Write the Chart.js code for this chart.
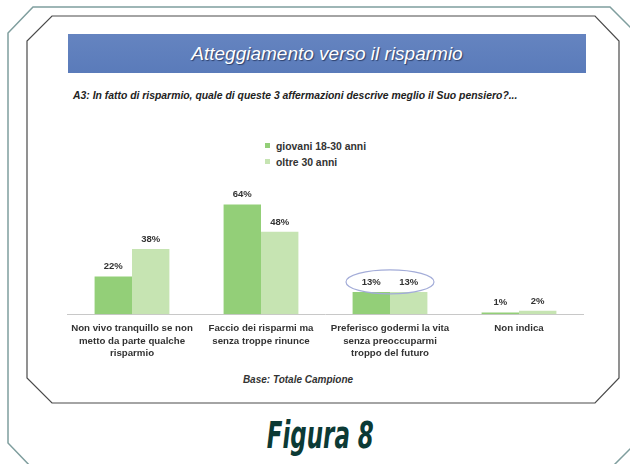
<!DOCTYPE html>
<html>
<head>
<meta charset="utf-8">
<script src="https://cdn.jsdelivr.net/npm/chart.js@4/dist/chart.umd.min.js"></script>
<style>
  html, body { margin: 0; padding: 0; background: #ffffff; }
  body { width: 630px; height: 464px; position: relative; overflow: hidden; font-family: "Liberation Sans", Arial, sans-serif; }
  #frame { position: absolute; left: 0; top: 0; }
  #titlebar {
    position: absolute; left: 68px; top: 34px; width: 518px; height: 39px;
    background: linear-gradient(#6584c0, #5a7bba);
    color: #fff; font-style: italic; font-size: 19px; text-align: center; line-height: 39px;
    text-shadow: 1px 1px 1px #2c3f6a;
  }
  #question { position: absolute; left: 73px; top: 90px; font-size: 10.4px; font-weight: bold; font-style: italic; color: #222; white-space: nowrap; }
  #legend { position: absolute; left: 265px; top: 140px; font-size: 10.4px; font-weight: bold; color: #333; }
  #legend div { height: 16px; line-height: 14px; white-space: nowrap; }
  #legend span { display: inline-block; width: 5px; height: 5px; margin-right: 6px; vertical-align: 2px; }
  #base { position: absolute; left: 0; width: 596px; top: 374px; text-align: center; font-size: 10px; font-weight: bold; font-style: italic; color: #333; }
  #figura {
    position: absolute; left: 0; width: 640px; top: 416px; text-align: center;
    font-family: "DejaVu Sans", sans-serif;
    font-weight: bold; font-style: italic; font-size: 37px; color: #0c3a35; line-height: 40px;
  }
  #figura span { display: inline-block; transform: scaleX(0.62); }
  #wrap { position: absolute; left: 60px; top: 170px; width: 530px; height: 194px; }
</style>
</head>
<body>
<svg id="frame" width="630" height="464">
  <polygon points="33,7 610,7 636,33 636,443 610,469 33,469 8,443 8,33" fill="none" stroke="#7f9e9e" stroke-width="1.5"/>
  <polygon points="52,16 595,16 619,41 619,378 595,403 52,403 27,378 27,41" fill="#ffffff" stroke="#4a4a4a" stroke-width="1.2"/>
</svg>
<div id="titlebar">Atteggiamento verso il risparmio</div>
<div id="question">A3: In fatto di risparmio, quale di queste 3 affermazioni descrive meglio il Suo pensiero?...</div>
<div id="legend"></div>
<div id="wrap"><canvas id="chart" width="530" height="194"></canvas></div>
<div id="base">Base: Totale Campione</div>
<div id="figura"><span>Figura 8</span></div>
<script>
const categories = [
  ["Non vivo tranquillo se non", "metto da parte qualche", "risparmio"],
  ["Faccio dei risparmi ma", "senza troppe rinunce"],
  ["Preferisco godermi la vita", "senza preoccuparmi", "troppo del futuro"],
  ["Non indica"]
];
const seriesNames = ["giovani 18-30 anni", "oltre 30 anni"];
const giovani = [22, 64, 13, 1];
const oltre = [38, 48, 13, 2];
const colors = ["#93cf78", "#c6e4b2"];

// legend in html, from the dataset names
document.getElementById("legend").innerHTML = seriesNames
  .map((n, i) => '<div><span style="background:' + colors[i] + '"></span>' + n + "</div>")
  .join("");

const valueLabels = {
  id: "valueLabels",
  afterDatasetsDraw(chart) {
    const ctx = chart.ctx;
    ctx.save();
    ctx.font = "bold 9.5px 'Liberation Sans', Arial, sans-serif";
    ctx.fillStyle = "#333";
    ctx.textAlign = "center";
    ctx.textBaseline = "bottom";
    chart.data.datasets.forEach((ds, di) => {
      chart.getDatasetMeta(di).data.forEach((bar, i) => {
        ctx.fillText(ds.data[i] + "%", bar.x, bar.y - 5);
      });
    });
    // ellipse round the third group labels
    const a = chart.getDatasetMeta(0).data[2];
    const b = chart.getDatasetMeta(1).data[2];
    const cx = (a.x + b.x) / 2;
    const cy = Math.min(a.y, b.y) - 10;
    ctx.beginPath();
    ctx.ellipse(cx, cy, 44, 12, 0, 0, Math.PI * 2);
    ctx.strokeStyle = "#a3acd8";
    ctx.lineWidth = 1.2;
    ctx.stroke();
    ctx.restore();
  }
};

new Chart(document.getElementById("chart"), {
  type: "bar",
  data: {
    labels: categories,
    datasets: [
      { label: seriesNames[0], data: giovani, backgroundColor: colors[0] },
      { label: seriesNames[1], data: oltre, backgroundColor: colors[1] }
    ]
  },
  options: {
    responsive: false,
    animation: false,
    layout: { padding: { left: 7.5, right: 6.5, top: 7, bottom: 4 } },
    datasets: { bar: { categoryPercentage: 0.58, barPercentage: 1 } },
    plugins: { legend: { display: false }, tooltip: { enabled: false } },
    scales: {
      y: { display: false, min: 0, max: 80 },
      x: {
        grid: { display: false },
        border: { color: "#c8c8c8" },
        ticks: {
          padding: 0,
          color: "#333",
          maxRotation: 0,
          font: { family: "'Liberation Sans', Arial, sans-serif", size: 9.7, weight: "bold", lineHeight: 1.3 }
        }
      }
    }
  },
  plugins: [valueLabels]
});
</script>
</body>
</html>
